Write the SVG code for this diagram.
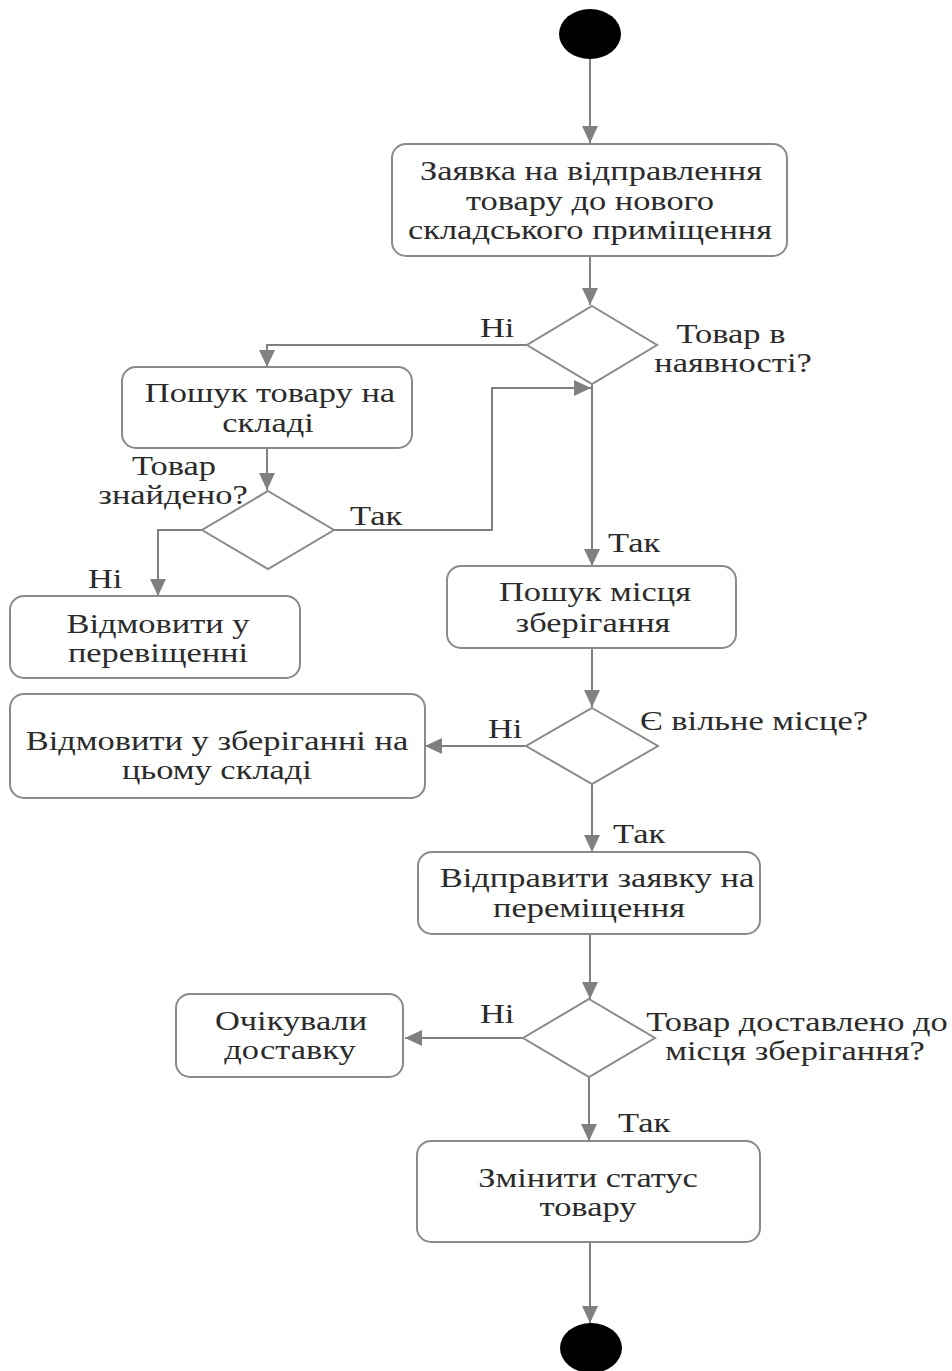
<svg xmlns="http://www.w3.org/2000/svg" width="952" height="1371" viewBox="0 0 952 1371">
  <style>
    .box { fill: #ffffff; stroke: #8a8a8a; stroke-width: 2; }
    .dec { fill: #ffffff; stroke: #8a8a8a; stroke-width: 2; }
    .term { fill: #000000; }
    .edge { fill: none; stroke: #808080; stroke-width: 2; }
    text { font-family: "Liberation Serif", "Times New Roman", serif; font-size: 28px; fill: #2b2b2b; }
    .c { text-anchor: middle; }
  </style>
  <defs>
    <marker id="arrow" markerUnits="userSpaceOnUse" markerWidth="18" markerHeight="18" refX="17" refY="8" orient="auto">
      <path d="M0,0 L17,8 L0,16 z" fill="#808080"/>
    </marker>
  </defs>
  <rect width="952" height="1371" fill="#ffffff"/>

  <!-- connectors and their guard labels; text is widened by scale(1.23 1) -->
  <g id="connectors">
    <path class="edge" d="M590,59 V143" marker-end="url(#arrow)"/>
    <path class="edge" d="M590,256 V305" marker-end="url(#arrow)"/>
    <path class="edge" d="M527,345 H267 V367" marker-end="url(#arrow)"/>
    <path class="edge" d="M267,448 V490" marker-end="url(#arrow)"/>
    <path class="edge" d="M334,530 H492 V388 H591" marker-end="url(#arrow)"/>
    <path class="edge" d="M202,530 H158 V596" marker-end="url(#arrow)"/>
    <path class="edge" d="M592,384 V566" marker-end="url(#arrow)"/>
    <path class="edge" d="M592,648 V707" marker-end="url(#arrow)"/>
    <path class="edge" d="M526,746 H425" marker-end="url(#arrow)"/>
    <path class="edge" d="M592,784 V852" marker-end="url(#arrow)"/>
    <path class="edge" d="M590,934 V999" marker-end="url(#arrow)"/>
    <path class="edge" d="M523,1038 H405" marker-end="url(#arrow)"/>
    <path class="edge" d="M589,1077 V1141" marker-end="url(#arrow)"/>
    <path class="edge" d="M590,1242 V1323" marker-end="url(#arrow)"/>

    <text transform="translate(480 337) scale(1.23 1)">Ні</text>
    <text transform="translate(350 525) scale(1.23 1)">Так</text>
    <text transform="translate(88 588) scale(1.23 1)">Ні</text>
    <text transform="translate(608 552) scale(1.23 1)">Так</text>
    <text transform="translate(488 738) scale(1.23 1)">Ні</text>
    <text transform="translate(613 843) scale(1.23 1)">Так</text>
    <text transform="translate(480 1023) scale(1.23 1)">Ні</text>
    <text transform="translate(618 1132) scale(1.23 1)">Так</text>
  </g>

  <g id="start">
    <ellipse class="term" cx="590" cy="34" rx="31" ry="25"/>
  </g>

  <g id="request">
    <rect class="box" x="392" y="144" width="395" height="112" rx="14"/>
    <text class="c" transform="translate(591 180) scale(1.23 1)">Заявка на відправлення</text>
    <text class="c" transform="translate(590 210) scale(1.23 1)">товару до нового</text>
    <text class="c" transform="translate(590 239) scale(1.23 1)">складського приміщення</text>
  </g>

  <g id="in-stock">
    <polygon class="dec" points="592,306 657,345 592,384 527,345"/>
    <text class="c" transform="translate(731 343) scale(1.23 1)">Товар в</text>
    <text class="c" transform="translate(733 372) scale(1.23 1)">наявності?</text>
  </g>

  <g id="search-goods">
    <rect class="box" x="122" y="367" width="290" height="81" rx="14"/>
    <text class="c" transform="translate(270 402) scale(1.23 1)">Пошук товару на</text>
    <text class="c" transform="translate(268 432) scale(1.23 1)">складі</text>
  </g>

  <g id="goods-found">
    <polygon class="dec" points="268,491 334,530 268,569 202,530"/>
    <text class="c" transform="translate(174 475) scale(1.23 1)">Товар</text>
    <text class="c" transform="translate(173 504) scale(1.23 1)">знайдено?</text>
  </g>

  <g id="refuse-transfer">
    <rect class="box" x="10" y="596" width="290" height="82" rx="14"/>
    <text class="c" transform="translate(158 633) scale(1.23 1)">Відмовити у</text>
    <text class="c" transform="translate(158 662) scale(1.23 1)">перевіщенні</text>
  </g>

  <g id="search-place">
    <rect class="box" x="447" y="566" width="289" height="82" rx="14"/>
    <text class="c" transform="translate(595 601) scale(1.23 1)">Пошук місця</text>
    <text class="c" transform="translate(593 632) scale(1.23 1)">зберігання</text>
  </g>

  <g id="free-place">
    <polygon class="dec" points="592,708 658,746 592,784 526,746"/>
    <text transform="translate(640 730) scale(1.23 1)">Є вільне місце?</text>
  </g>

  <g id="refuse-storage">
    <rect class="box" x="10" y="694" width="415" height="104" rx="14"/>
    <text class="c" transform="translate(217 750) scale(1.23 1)">Відмовити у зберіганні на</text>
    <text class="c" transform="translate(217 779) scale(1.23 1)">цьому складі</text>
  </g>

  <g id="send-request">
    <rect class="box" x="418" y="852" width="342" height="82" rx="14"/>
    <text class="c" transform="translate(597 887) scale(1.23 1)">Відправити заявку на</text>
    <text class="c" transform="translate(589 917) scale(1.23 1)">переміщення</text>
  </g>

  <g id="delivered">
    <polygon class="dec" points="589,999 655,1038 589,1077 523,1038"/>
    <text class="c" transform="translate(797 1031) scale(1.23 1)">Товар доставлено до</text>
    <text class="c" transform="translate(795 1060) scale(1.23 1)">місця зберігання?</text>
  </g>

  <g id="await-delivery">
    <rect class="box" x="176" y="994" width="227" height="83" rx="14"/>
    <text class="c" transform="translate(291 1030) scale(1.23 1)">Очікували</text>
    <text class="c" transform="translate(290 1059) scale(1.23 1)">доставку</text>
  </g>

  <g id="change-status">
    <rect class="box" x="417" y="1141" width="343" height="101" rx="14"/>
    <text class="c" transform="translate(588 1187) scale(1.23 1)">Змінити статус</text>
    <text class="c" transform="translate(588 1216) scale(1.23 1)">товару</text>
  </g>

  <g id="end">
    <ellipse class="term" cx="591" cy="1348" rx="31" ry="25"/>
  </g>
</svg>
